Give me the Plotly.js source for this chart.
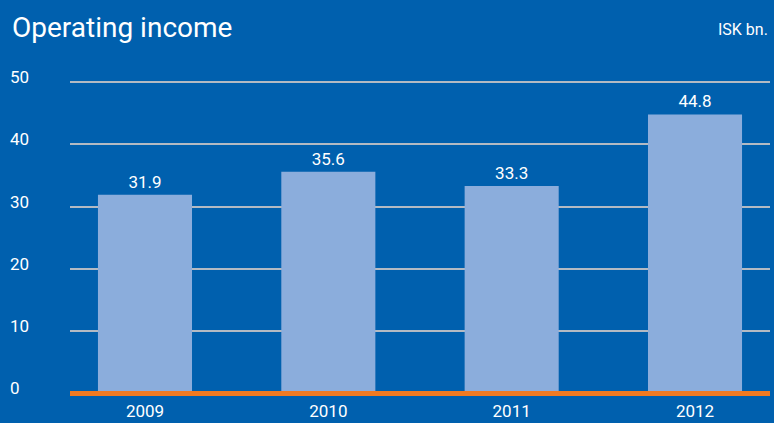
<!DOCTYPE html>
<html>
<head>
<meta charset="utf-8">
<script src="https://cdn.plot.ly/plotly-3.0.1.min.js"></script>
<style>
html,body{margin:0;padding:0;background:#0060AE;}
#chart{width:774px;height:423px;}
</style>
</head>
<body>
<div id="chart"></div>
<script>
const years = ['2009', '2010', '2011', '2012'];
const income = [31.9, 35.6, 33.3, 44.8];
const yTicks = [0, 10, 20, 30, 40, 50];

const trace = {
  type: 'bar',
  x: years,
  y: income,
  width: 0.513,
  marker: {color: '#8BADDC', line: {width: 0}},
  text: income.map(v => v.toFixed(1)),
  textposition: 'outside',
  textfont: {family: 'Roboto', size: 17, color: '#FFFFFF'},
  cliponaxis: false,
  hoverinfo: 'skip'
};

const layout = {
  width: 774,
  height: 423,
  margin: {l: 6, r: 4, t: 70, b: 26, pad: 0},
  paper_bgcolor: '#0060AE',
  plot_bgcolor: '#0060AE',
  font: {family: 'Roboto', color: '#FFFFFF', size: 17},
  showlegend: false,
  title: {
    text: 'Operating income',
    font: {family: 'Roboto', size: 28, color: '#FFFFFF'},
    xref: 'container', x: 12 / 774, xanchor: 'left',
    yref: 'container', y: 1 - 27 / 423, yanchor: 'middle'
  },
  xaxis: {
    type: 'category',
    domain: [64 / 764, 1],
    range: [-0.409, 3.409],
    showgrid: false,
    zeroline: false,
    showline: false,
    ticks: '',
    ticklabelstandoff: 2,
    tickfont: {family: 'Roboto', size: 17, color: '#FFFFFF'}
  },
  yaxis: {
    range: [-0.56, 51.93],
    anchor: 'free',
    position: 0,
    tickvals: yTicks,
    ticktext: yTicks.map(String),
    ticks: '',
    ticklabelposition: 'inside',
    ticklabelshift: -5,
    ticklabeloverflow: 'allow',
    tickfont: {family: 'Roboto', size: 17, color: '#FFFFFF'},
    showgrid: true,
    gridcolor: '#B3BAC3',
    gridwidth: 2,
    zeroline: true,
    zerolinecolor: '#F07A22',
    zerolinewidth: 5,
    zerolinelayer: 'above traces',
    showline: false
  },
  annotations: [{
    text: 'ISK bn.',
    xref: 'paper', yref: 'paper',
    x: 1, y: (397 - 30) / 327,
    xanchor: 'right', yanchor: 'middle',
    showarrow: false,
    font: {family: 'Roboto', size: 16, color: '#FFFFFF'}
  }]
};

Plotly.newPlot('chart', [trace], layout, {displayModeBar: false, staticPlot: true});
</script>
</body>
</html>
